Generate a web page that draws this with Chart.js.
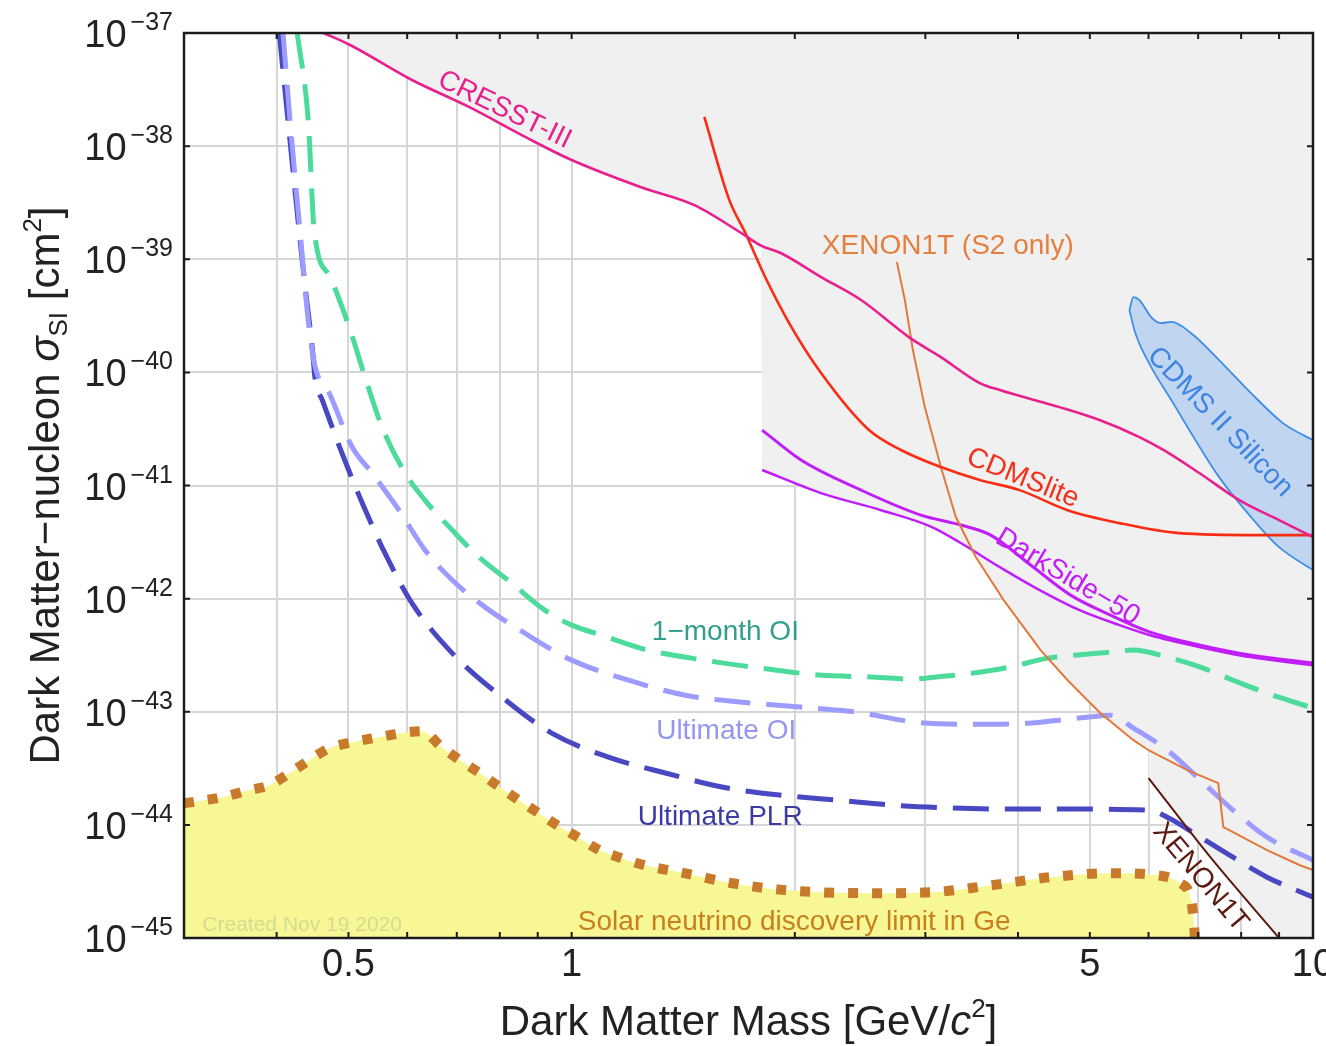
<!DOCTYPE html>
<html>
<head>
<meta charset="utf-8">
<title>Dark matter limits</title>
<script src="https://cdn.jsdelivr.net/npm/chart.js@4.4.0/dist/chart.umd.min.js"></script>
<style>
  html, body { margin: 0; padding: 0; background: #fff; }
  canvas { display: block; }
</style>
</head>
<body>
<canvas id="limitChart" width="1326" height="1046"></canvas>
<script>
// grid / tick positions
const massTicks = [0.4, 0.5, 0.6, 0.7, 0.8, 0.9, 1, 2, 3, 4, 5, 6, 7, 8, 9];
const massLabels = ['0.5', '1', '5', '10'];
const sigmaExponents = [-45, -44, -43, -42, -41, -40, -39, -38, -37];

// CRESST-III
const cresstMass = [0.463, 0.5025, 0.609, 0.727, 0.867, 1.0, 1.238, 1.464, 1.709, 1.80, 1.917, 2.17, 2.457, 2.85, 3.148, 3.552, 3.78, 4.55, 5.152, 5.833, 6.283, 7.024, 7.953, 9.0, 10];
const cresstSigma = [1e-37, 7.83e-38, 3.84e-38, 2.22e-38, 1.20e-38, 7.53e-39, 4.35e-39, 3.01e-39, 1.64e-39, 1.32e-39, 1.13e-39, 6.96e-40, 4.36e-40, 2.05e-40, 1.365e-40, 8.04e-41, 6.97e-41, 4.93e-41, 3.79e-41, 2.68e-41, 2.06e-41, 1.29e-41, 7.43e-42, 4.94e-42, 3.50e-42];

// CDMSlite
const cdmsliteMass = [1.510, 1.632, 1.715, 1.824, 1.965, 2.17, 2.518, 2.781, 3.148, 3.552, 4.02, 4.667, 5.482, 6.60, 8.46, 10];
const cdmsliteSigma = [1.81e-38, 3.33e-39, 1.71e-39, 6.96e-40, 2.73e-40, 9.86e-41, 3.09e-41, 2.06e-41, 1.455e-41, 1.117e-41, 9.1e-42, 6.05e-42, 4.65e-42, 3.79e-42, 3.64e-42, 3.64e-42];

// XENON1T (S2 only)
const s2Mass = [2.746, 2.815, 2.886, 2.995, 3.148, 3.298, 3.509, 3.826, 4.291, 4.667, 5.168, 5.725, 6.0, 6.77, 7.45, 7.57, 7.80, 8.67, 9.60, 10];
const s2Sigma = [9.45e-40, 4.36e-40, 1.575e-40, 4.93e-41, 1.455e-41, 5.26e-42, 2.33e-42, 9.7e-43, 3.51e-43, 1.90e-43, 9.72e-44, 5.61e-44, 4.57e-44, 3.05e-44, 2.34e-44, 9.55e-45, 8.61e-45, 5.97e-45, 4.40e-45, 3.98e-45];

// XENON1T
const xenonMass = [6.0, 7.27, 9.0];
const xenonSigma = [2.59e-44, 5.18e-45, 1e-45];

// DarkSide-50 (two curves)
const dsUpperMass = [1.807, 2.039, 2.457, 2.959, 3.349, 3.675, 4.160, 4.71, 5.33, 6.03, 7.05, 8.23, 10];
const dsUpperSigma = [3.09e-41, 1.68e-41, 9.1e-42, 5.47e-42, 4.47e-42, 3.64e-42, 1.98e-42, 1.074e-42, 7.15e-43, 5.06e-43, 3.88e-43, 3.17e-43, 2.69e-43];
const dsLowerMass = [1.807, 2.17, 2.614, 3.062, 3.349, 3.78, 4.278, 4.843, 5.482, 6.03, 7.05, 8.23, 10];
const dsLowerSigma = [1.37e-41, 8.57e-42, 6.05e-42, 4.29e-42, 3.10e-42, 1.90e-42, 1.19e-42, 7.91e-43, 5.83e-43, 4.75e-43, 3.72e-43, 3.04e-43, 2.58e-43];

// CDMS II Silicon contour (upper and lower edges)
const cdmsUpperMass = [5.654, 5.725, 5.833, 6.05, 6.225, 6.44, 6.85, 7.47, 8.25, 9.11, 10, 10.5];
const cdmsUpperSigma = [3.56e-40, 4.63e-40, 4.36e-40, 3.08e-40, 2.73e-40, 2.79e-40, 2.22e-40, 1.285e-40, 6.56e-41, 3.56e-41, 2.52e-41, 2.14e-41];
const cdmsLowerMass = [5.654, 5.76, 6.05, 6.44, 6.94, 7.47, 8.25, 9.0, 10, 10.5];
const cdmsLowerSigma = [3.56e-40, 2.22e-40, 1.114e-40, 5.69e-41, 2.52e-41, 1.186e-41, 5.26e-42, 2.85e-42, 1.79e-42, 1.46e-42];

// projections
const monthMass = [0.4264, 0.4412, 0.4495, 0.4724, 0.501, 0.5264, 0.555, 0.596, 0.634, 0.690, 0.7497, 0.830, 0.920, 1.0, 1.098, 1.266, 1.510, 1.80, 2.157, 2.573, 2.868, 3.08, 3.465, 3.898, 4.385, 5.168, 5.725, 6.36, 7.05, 7.80, 8.67, 10];
const monthSigma = [1e-37, 1.70e-38, 1.81e-39, 6.96e-40, 2.52e-40, 9.08e-41, 3.28e-41, 1.29e-41, 7.43e-42, 4.04e-42, 2.33e-42, 1.37e-42, 7.91e-43, 5.83e-43, 4.75e-43, 3.51e-43, 2.86e-43, 2.43e-43, 2.11e-43, 2.02e-43, 1.94e-43, 2.02e-43, 2.19e-43, 2.48e-43, 2.98e-43, 3.30e-43, 3.51e-43, 3.04e-43, 2.48e-43, 1.90e-43, 1.46e-43, 1.076e-43];

const ultOIMass = [0.408, 0.4184, 0.4304, 0.4412, 0.451, 0.471, 0.5057, 0.538, 0.585, 0.634, 0.690, 0.764, 0.8644, 1.0, 1.193, 1.424, 1.699, 2.033, 2.426, 2.904, 3.465, 4.134, 4.95, 5.33, 5.725, 6.36, 7.05, 7.80, 8.67, 10];
const ultOISigma = [1e-37, 1.305e-38, 1.71e-39, 2.90e-40, 1.114e-40, 6.56e-41, 2.19e-41, 1.29e-41, 6.05e-42, 2.69e-42, 1.46e-42, 8.41e-43, 4.95e-43, 2.86e-43, 1.90e-43, 1.40e-43, 1.216e-43, 1.10e-43, 9.9e-44, 8.09e-44, 7.76e-44, 7.93e-44, 8.95e-44, 9.33e-44, 7.16e-44, 4.57e-44, 2.48e-44, 1.35e-44, 7.78e-45, 4.88e-45];

const plrMass = [0.4033, 0.416, 0.4292, 0.4371, 0.4467, 0.451, 0.461, 0.490, 0.522, 0.560, 0.609, 0.690, 0.805, 0.940, 1.121, 1.342, 1.602, 1.917, 2.288, 2.73, 3.268, 3.898, 4.667, 6.0, 6.36, 7.05, 7.80, 8.67, 10];
const plrSigma = [1e-37, 1.305e-38, 1.71e-39, 5.68e-40, 1.675e-40, 8.55e-41, 5.69e-41, 1.93e-41, 6.98e-42, 2.52e-42, 9.12e-43, 3.30e-43, 1.35e-43, 6.47e-44, 3.97e-44, 2.86e-44, 2.15e-44, 1.83e-44, 1.65e-44, 1.49e-44, 1.41e-44, 1.38e-44, 1.38e-44, 1.35e-44, 1.17e-44, 7.78e-45, 5.18e-45, 3.45e-45, 2.30e-45];

// solar neutrino discovery limit in Ge
const solarMass = [0.3, 0.338, 0.3675, 0.391, 0.416, 0.4426, 0.471, 0.5057, 0.5498, 0.590, 0.628, 0.668, 0.707, 0.752, 0.800, 0.849, 0.903, 0.960, 1.025, 1.091, 1.168, 1.254, 1.419, 1.647, 1.941, 2.557, 3.07, 3.687, 4.43, 5.314, 6.148, 6.62, 6.85, 6.92, 6.93];
const solarSigma = [1.55e-44, 1.758e-44, 2.03e-44, 2.24e-44, 2.86e-44, 3.73e-44, 4.76e-44, 5.38e-44, 5.96e-44, 6.47e-44, 6.73e-44, 4.86e-44, 3.73e-44, 2.86e-44, 2.15e-44, 1.65e-44, 1.27e-44, 9.75e-45, 7.62e-45, 5.97e-45, 5.08e-45, 4.40e-45, 3.74e-45, 3.05e-45, 2.65e-45, 2.49e-45, 2.54e-45, 2.93e-45, 3.45e-45, 3.74e-45, 3.59e-45, 3.05e-45, 2.16e-45, 1.17e-45, 1e-45];

const FONT = '"Liberation Sans", Arial, sans-serif';

const zip = (xs, ys) => xs.map((x, i) => ({ x: x, y: ys[i] }));

// excluded region = lower envelope of the limits
const excluded = [
    ...zip(cresstMass, cresstSigma).filter(p => p.x <= 1.80),
    ...zip(dsLowerMass, dsLowerSigma).filter(p => p.x <= 3.35),
    ...zip(s2Mass, s2Sigma).filter(p => p.x >= 3.5 && p.x <= 6.0),
    ...zip(xenonMass, xenonSigma),
    { x: 10, y: 1e-45 }
];

function curve(label, data, color, width, extra) {
    return Object.assign({
        label: label,
        data: data,
        showLine: true,
        borderColor: color,
        backgroundColor: color,
        borderWidth: width,
        pointRadius: 0,
        fill: false,
        cubicInterpolationMode: 'monotone',
        order: 0
    }, extra || {});
}

const dashed = { borderDash: [36, 16], borderCapStyle: 'butt' };

const datasets = [
    curve('CRESST-III', zip(cresstMass, cresstSigma), '#e8208e', 2.6),
    curve('CDMSlite', zip(cdmsliteMass, cdmsliteSigma), '#fa2c14', 2.6),
    curve('XENON1T (S2 only)', zip(s2Mass, s2Sigma), '#e07a3c', 2, { cubicInterpolationMode: 'default', tension: 0 }),
    curve('XENON1T', zip(xenonMass, xenonSigma), '#5c1a12', 2),
    curve('DarkSide-50 a', zip(dsUpperMass, dsUpperSigma), '#c01ef8', 3),
    curve('DarkSide-50 b', zip(dsLowerMass, dsLowerSigma), '#c01ef8', 2.5),
    curve('1-month OI', zip(monthMass, monthSigma), '#4ddb9c', 5, dashed),
    curve('Ultimate OI', zip(ultOIMass, ultOISigma), '#9c9cff', 5, dashed),
    curve('Ultimate PLR', zip(plrMass, plrSigma), '#4848c2', 5, dashed),
    curve('CDMS II Silicon', zip(cdmsUpperMass, cdmsUpperSigma), '#3d8de6', 1.8, {
        fill: '+1', backgroundColor: 'rgba(90,155,235,0.32)', order: 3
    }),
    curve('CDMS II Silicon lower', zip(cdmsLowerMass, cdmsLowerSigma), '#3d8de6', 1.8, { order: 3 }),
    curve('Solar neutrino', zip(solarMass, solarSigma), '#c87a2a', 10, {
        borderDash: [10, 14], borderCapStyle: 'butt', fill: 'start', backgroundColor: '#f7f796', order: 4
    }),
    curve('Excluded', excluded, 'rgba(0,0,0,0)', 0, {
        fill: 'end', backgroundColor: '#f0f0f0', order: 5, cubicInterpolationMode: 'default', tension: 0
    })
];

const curveNotes = [
    { text: 'CRESST-III', mass: 0.812, sigma: 2.09e-38, angle: 26, color: '#e8208e' },
    { text: 'XENON1T (S2 only)', mass: 3.217, sigma: 1.31e-39, angle: 0, color: '#e57f3e' },
    { text: 'CDMSlite', mass: 4.06, sigma: 1.16e-41, angle: 22, color: '#f5301a' },
    { text: 'DarkSide\u221250', mass: 4.667, sigma: 1.55e-42, angle: 31, color: '#c21ef5' },
    { text: 'CDMS II Silicon', mass: 7.49, sigma: 3.64e-41, angle: 46, color: '#3f84e2' },
    { text: '1\u2212month OI', mass: 1.612, sigma: 5.06e-43, angle: 0, color: '#339e8e' },
    { text: 'Ultimate OI', mass: 1.616, sigma: 6.73e-44, angle: 0, color: '#9696f2' },
    { text: 'Ultimate PLR', mass: 1.586, sigma: 1.17e-44, angle: 0, color: '#3b3ba6' },
    { text: 'Solar neutrino discovery limit in Ge', mass: 1.996, sigma: 1.38e-45, angle: 0, color: '#c8801f' },
    { text: 'XENON1T', mass: 7.05, sigma: 3.45e-45, angle: 50, color: '#5c1a12' }
];

function richText(ctx, parts, x, y, align) {
    let total = 0;
    const widths = parts.map(p => {
        ctx.font = (p.style || '') + ' ' + p.size + 'px ' + FONT;
        const w = ctx.measureText(p.t).width + (p.gap || 0);
        total += w;
        return w;
    });
    let cx = align === 'right' ? x - total : (align === 'center' ? x - total / 2 : x);
    ctx.textAlign = 'left';
    ctx.textBaseline = 'alphabetic';
    parts.forEach((p, i) => {
        ctx.font = (p.style || '') + ' ' + p.size + 'px ' + FONT;
        ctx.fillText(p.t, cx + (p.gap || 0), y + (p.dy || 0));
        cx += widths[i];
    });
}

const decorations = {
    id: 'decorations',
    afterDraw(chart) {
        const ctx = chart.ctx;
        const a = chart.chartArea;
        const xs = chart.scales.x;
        const ys = chart.scales.y;
        ctx.save();

        // curve labels
        ctx.textAlign = 'center';
        ctx.textBaseline = 'middle';
        curveNotes.forEach(n => {
            ctx.save();
            ctx.translate(xs.getPixelForValue(n.mass), ys.getPixelForValue(n.sigma));
            ctx.rotate(n.angle * Math.PI / 180);
            ctx.font = '28px ' + FONT;
            ctx.fillStyle = n.color;
            ctx.fillText(n.text, 0, 0);
            ctx.restore();
        });
        ctx.font = '21px ' + FONT;
        ctx.fillStyle = '#d6da92';
        ctx.fillText('Created Nov 19 2020', xs.getPixelForValue(0.433), ys.getPixelForValue(1.3e-45));

        // frame
        ctx.strokeStyle = '#1c1c1c';
        ctx.lineWidth = 2.5;
        ctx.strokeRect(a.left, a.top, a.right - a.left, a.bottom - a.top);

        // inner tick marks
        ctx.lineWidth = 2;
        ctx.beginPath();
        massTicks.forEach(v => {
            const px = xs.getPixelForValue(v);
            ctx.moveTo(px, a.bottom); ctx.lineTo(px, a.bottom - 6);
            ctx.moveTo(px, a.top); ctx.lineTo(px, a.top + 6);
        });
        sigmaExponents.forEach(e => {
            const py = ys.getPixelForValue(Math.pow(10, e));
            ctx.moveTo(a.left, py); ctx.lineTo(a.left + 6, py);
            ctx.moveTo(a.right, py); ctx.lineTo(a.right - 6, py);
        });
        ctx.stroke();

        // tick labels
        ctx.fillStyle = '#222';
        sigmaExponents.forEach(e => {
            const py = ys.getPixelForValue(Math.pow(10, e));
            richText(ctx, [
                { t: '10', size: 38 },
                { t: '\u2212' + Math.abs(e), size: 25, dy: -17, gap: 4 }
            ], a.left - 11, py + 14, 'right');
        });
        ctx.textAlign = 'center';
        ctx.textBaseline = 'alphabetic';
        ctx.font = '38px ' + FONT;
        massLabels.forEach(s => {
            ctx.fillText(s, xs.getPixelForValue(parseFloat(s)), a.bottom + 38);
        });

        // axis titles
        richText(ctx, [
            { t: 'Dark Matter Mass [GeV/', size: 42 },
            { t: 'c', size: 42, style: 'italic' },
            { t: '2', size: 26, dy: -18 },
            { t: ']', size: 42 }
        ], (a.left + a.right) / 2, 1035, 'center');

        ctx.save();
        ctx.translate(59, (a.top + a.bottom) / 2);
        ctx.rotate(-Math.PI / 2);
        richText(ctx, [
            { t: 'Dark Matter\u2212nucleon ', size: 42 },
            { t: '\u03c3', size: 42, style: 'italic' },
            { t: 'SI', size: 26, dy: 8 },
            { t: ' [cm', size: 42 },
            { t: '2', size: 26, dy: -18 },
            { t: ']', size: 42 }
        ], 0, 0, 'center');
        ctx.restore();

        ctx.restore();
    }
};

new Chart(document.getElementById('limitChart'), {
    type: 'scatter',
    data: { datasets: datasets },
    options: {
        responsive: false,
        devicePixelRatio: 1,
        animation: false,
        events: [],
        layout: { padding: { left: 184, top: 33, right: 13, bottom: 108 } },
        plugins: { legend: { display: false }, tooltip: { enabled: false } },
        scales: {
            x: {
                type: 'logarithmic',
                min: 0.3,
                max: 10,
                afterBuildTicks: scale => { scale.ticks = massTicks.map(v => ({ value: v })); },
                ticks: { display: false },
                grid: { color: '#d6d6d6', lineWidth: 2, drawTicks: false },
                border: { display: false }
            },
            y: {
                type: 'logarithmic',
                min: 1e-45,
                max: 1e-37,
                afterBuildTicks: scale => { scale.ticks = sigmaExponents.map(e => ({ value: Math.pow(10, e) })); },
                ticks: { display: false },
                grid: { color: '#d6d6d6', lineWidth: 2, drawTicks: false },
                border: { display: false }
            }
        }
    },
    plugins: [decorations]
});
</script>
</body>
</html>
